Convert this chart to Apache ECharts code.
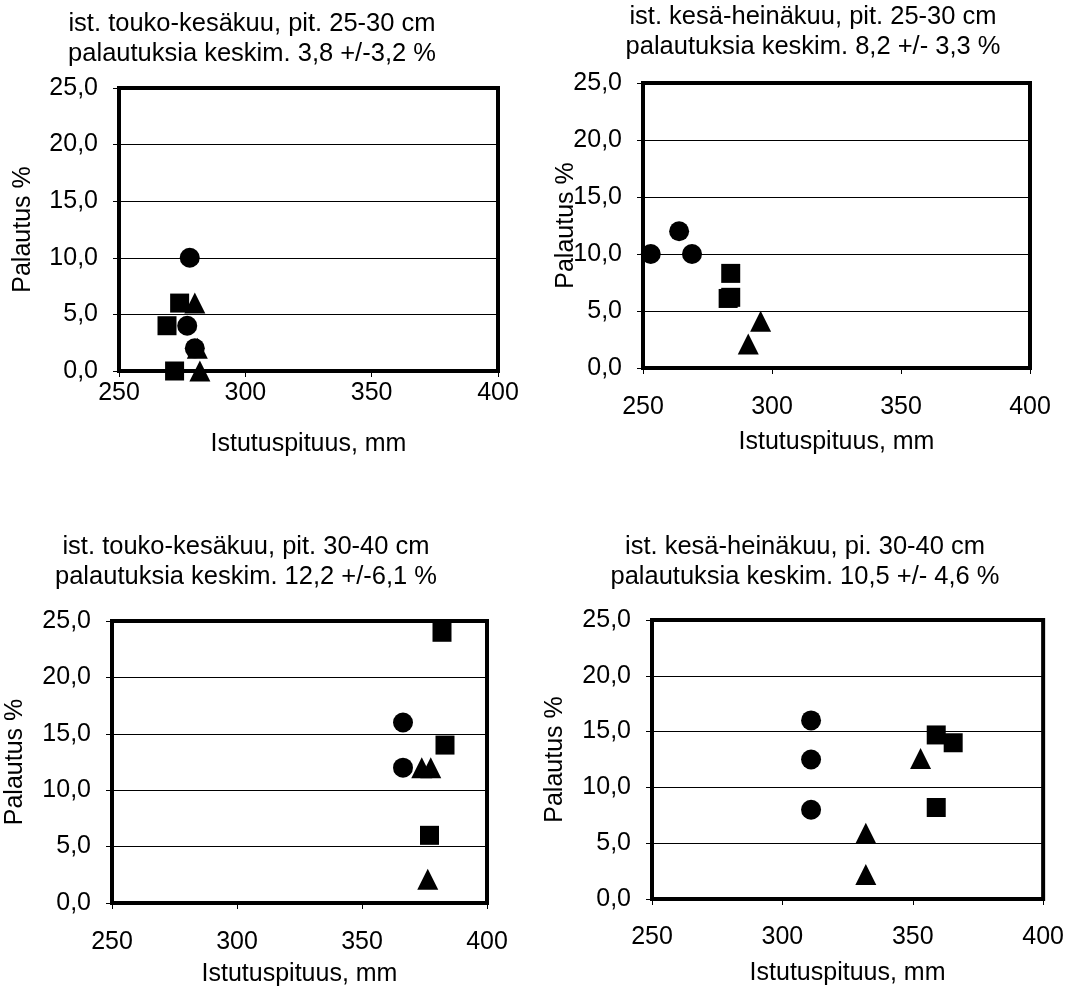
<!DOCTYPE html>
<html>
<head>
<meta charset="utf-8">
<script src="https://cdn.jsdelivr.net/npm/echarts@6/dist/echarts.min.js"></script>
<style>
html,body{margin:0;padding:0;background:#fff;}
#chart{width:1067px;height:992px;}
</style>
</head>
<body>
<div id="chart"></div>
<script>
// ---- Data ----
const panelTitles = [
  'ist. touko-kesäkuu, pit. 25-30 cm\npalautuksia keskim. 3,8 +/-3,2 %',
  'ist. kesä-heinäkuu, pit. 25-30 cm\npalautuksia keskim. 8,2 +/- 3,3 %',
  'ist. touko-kesäkuu, pit. 30-40 cm\npalautuksia keskim. 12,2 +/-6,1 %',
  'ist. kesä-heinäkuu, pi. 30-40 cm\npalautuksia keskim. 10,5 +/- 4,6 %'
];
const xAxisName = 'Istutuspituus, mm';
const yAxisName = 'Palautus %';
const xMin = 250, xMax = 400, xStep = 50;
const yMin = 0, yMax = 25, yStep = 5;

// panel 1: touko-kesäkuu, 25-30 cm
const p1Circles   = [[278, 10], [277, 4], [280, 2]];
const p1Squares   = [[274, 6], [269, 4], [272, 0]];
const p1Triangles = [[280, 6], [281, 2], [282, 0]];
// panel 2: kesä-heinäkuu, 25-30 cm
const p2Circles   = [[253, 10], [264, 12], [269, 10]];
const p2Squares   = [[284, 8.3], [283, 6.1], [284, 6.2]];
const p2Triangles = [[295.6, 4.1], [290.8, 2.1]];
// panel 3: touko-kesäkuu, 30-40 cm
const p3Circles   = [[366.4, 16], [366.4, 12]];
const p3Squares   = [[382, 24], [383.2, 14], [377, 6]];
const p3Triangles = [[373.9, 12], [377.5, 12], [376.3, 2.1]];
// panel 4: kesä-heinäkuu, 30-40 cm
const p4Circles   = [[311, 16], [311, 12.5], [311, 8]];
const p4Squares   = [[359, 14.7], [365.5, 14], [359, 8.2]];
const p4Triangles = [[332, 5.9], [332, 2.2], [353, 12.6]];

const panelData = [
  [p1Circles, p1Squares, p1Triangles],
  [p2Circles, p2Squares, p2Triangles],
  [p3Circles, p3Squares, p3Triangles],
  [p4Circles, p4Squares, p4Triangles]
];

// ---- Layout (pixels) ----
const FONT = "'Liberation Sans', Arial, sans-serif";
const FS = 25;
const TFS = 25.5;
const grids = [
  {left: 119, top: 88,  width: 379, height: 283},
  {left: 643, top: 83,  width: 387, height: 285},
  {left: 112, top: 621, width: 375, height: 282},
  {left: 652, top: 620, width: 392, height: 279}
];
const titlePos = [
  {x: 252, top: 9},
  {x: 813, top: 2},
  {x: 246, top: 532},
  {x: 805, top: 532}
];
const xLabelMargin = [10, 27, 27, 26];
const xNameGap = [61, 62, 59, 62];
const yNameGap = [83, 64, 84, 84];

const symbols = ['circle', 'rect', 'triangle'];
const symbolSizes = [20, 19, 21];

const option = {
  animation: false,
  backgroundColor: '#fff',
  textStyle: {fontFamily: FONT, color: '#000'},
  title: panelTitles.map((t, i) => ({
    text: t,
    left: titlePos[i].x,
    top: titlePos[i].top,
    textAlign: 'center',
    padding: 0,
    textStyle: {fontFamily: FONT, fontSize: TFS, fontWeight: 'normal', color: '#000', lineHeight: 30}
  })),
  grid: grids.map(g => ({
    left: g.left, top: g.top, width: g.width, height: g.height,
    show: true, borderColor: '#000', borderWidth: 4, backgroundColor: 'transparent',
    containLabel: false
  })),
  xAxis: grids.map((g, i) => ({
    type: 'value', gridIndex: i, min: xMin, max: xMax, interval: xStep,
    name: xAxisName, nameLocation: 'middle', nameGap: xNameGap[i],
    nameMoveOverlap: false,
    nameTextStyle: {fontFamily: FONT, fontSize: FS, color: '#000'},
    axisLine: {show: false},
    axisTick: {show: true, length: 6, lineStyle: {color: '#000', width: 1}},
    axisLabel: {fontFamily: FONT, fontSize: FS, color: '#000', margin: xLabelMargin[i]},
    splitLine: {show: false}
  })),
  yAxis: grids.map((g, i) => ({
    type: 'value', gridIndex: i, min: yMin, max: yMax, interval: yStep,
    name: yAxisName, nameLocation: 'middle', nameGap: yNameGap[i], nameRotate: 90,
    nameMoveOverlap: false,
    nameTextStyle: {fontFamily: FONT, fontSize: FS, color: '#000'},
    axisLine: {show: false},
    axisTick: {show: true, length: 6, lineStyle: {color: '#000', width: 1}},
    axisLabel: {fontFamily: FONT, fontSize: FS, color: '#000', margin: 21,
      formatter: v => v.toFixed(1).replace('.', ',')},
    splitLine: {show: true, lineStyle: {color: '#000', width: 1}}
  })),
  series: []
};

panelData.forEach((sets, p) => {
  sets.forEach((data, k) => {
    option.series.push({
      type: 'scatter',
      xAxisIndex: p, yAxisIndex: p,
      data: data,
      symbol: symbols[k],
      symbolSize: symbolSizes[k],
      clip: false,
      itemStyle: {color: '#000', opacity: 1},
      emphasis: {disabled: true},
      z: 5
    });
  });
});

const chart = echarts.init(document.getElementById('chart'), null, {renderer: 'canvas'});
chart.setOption(option);
</script>
</body>
</html>
